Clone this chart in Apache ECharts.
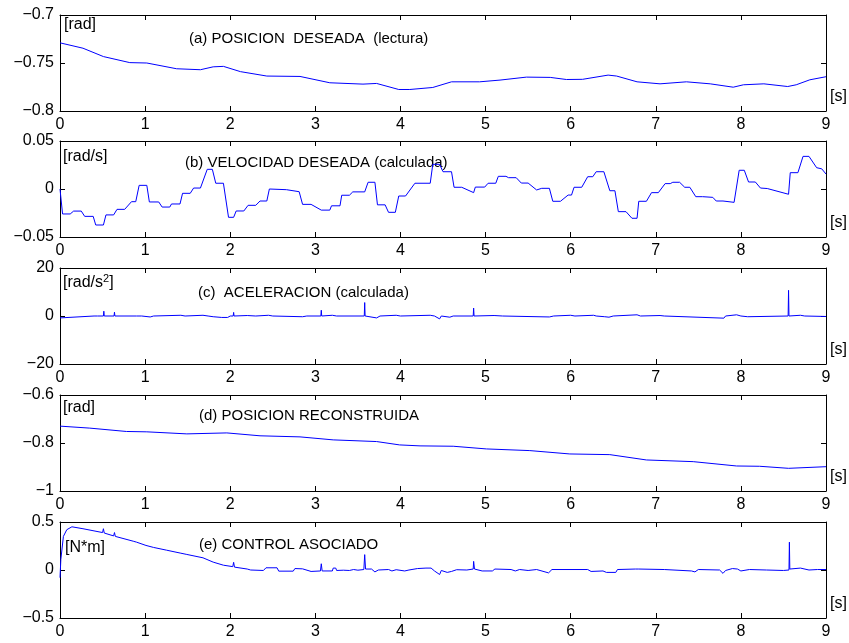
<!DOCTYPE html>
<html>
<head>
<meta charset="utf-8">
<script src="https://cdn.jsdelivr.net/npm/echarts@6/dist/echarts.min.js"></script>
<style>
  html, body { margin: 0; padding: 0; background: #fff; }
  #chart { width: 849px; height: 643px; }
</style>
</head>
<body>
<div id="chart"></div>
<script>
// time axis ticks [s]
const X_TICKS = [0, 1, 2, 3, 4, 5, 6, 7, 8, 9];

// (a) desired position [rad]
const posDeseada = [
  [0, -0.729], [0.27, -0.7346], [0.51, -0.7433], [0.82, -0.7496], [1.02, -0.750],
  [1.37, -0.756], [1.65, -0.757], [1.80, -0.754], [1.92, -0.7535], [2.12, -0.759],
  [2.43, -0.7636], [2.82, -0.764], [3.17, -0.7706], [3.56, -0.772], [3.72, -0.7713],
  [3.98, -0.7776], [4.11, -0.7776], [4.38, -0.7755], [4.60, -0.7696], [4.93, -0.7696],
  [5.17, -0.7678], [5.48, -0.7647], [5.76, -0.765], [5.95, -0.7672], [6.14, -0.767],
  [6.44, -0.7626], [6.54, -0.7636], [6.78, -0.7696], [7.05, -0.7717], [7.36, -0.7696],
  [7.64, -0.7717], [7.91, -0.7752], [8.03, -0.7727], [8.27, -0.7717], [8.55, -0.7745],
  [8.65, -0.7727], [8.81, -0.7675], [9.0, -0.7643]
];

// (b) desired velocity [rad/s]
const velDeseada = [
  [0, 0], [0.03, -0.026], [0.12, -0.026], [0.16, -0.023], [0.25, -0.023],
  [0.29, -0.0285], [0.39, -0.0285], [0.42, -0.0375], [0.51, -0.0375], [0.54, -0.027],
  [0.63, -0.027], [0.67, -0.0212], [0.76, -0.0212], [0.84, -0.0132], [0.89, -0.0132],
  [0.93, 0.0038], [1.02, 0.0038], [1.05, -0.0135], [1.16, -0.0135], [1.20, -0.0188],
  [1.29, -0.0188], [1.31, -0.0156], [1.41, -0.0156], [1.44, -0.0045], [1.53, -0.0045],
  [1.57, 0.001], [1.65, 0.001], [1.73, 0.0205], [1.79, 0.0205], [1.83, 0.006],
  [1.92, 0.006], [1.98, -0.0295], [2.04, -0.0295], [2.07, -0.0229], [2.16, -0.0229],
  [2.21, -0.017], [2.30, -0.017], [2.35, -0.0125], [2.43, -0.0125], [2.46, 0],
  [2.66, -0.0007], [2.81, -0.0028], [2.85, -0.016], [2.95, -0.016], [3.07, -0.022],
  [3.17, -0.022], [3.19, -0.0175], [3.29, -0.0175], [3.31, -0.0065], [3.40, -0.0065],
  [3.44, -0.003], [3.58, -0.003], [3.62, 0.007], [3.70, 0.007], [3.73, -0.0165],
  [3.82, -0.0165], [3.86, -0.0243], [3.94, -0.0243], [3.98, -0.0073], [4.06, -0.0073],
  [4.17, 0.006], [4.35, 0.006], [4.38, 0.0257], [4.46, 0.0257], [4.50, 0.018],
  [4.60, 0.018], [4.63, 0.0018], [4.72, 0.0018], [4.86, -0.0038], [4.88, 0.002],
  [4.99, 0.002], [5.03, 0.006], [5.12, 0.006], [5.15, 0.0132], [5.24, 0.0132],
  [5.27, 0.0118], [5.36, 0.0118], [5.42, 0.0062], [5.50, 0.0062], [5.60, -0.001],
  [5.66, 0.0007], [5.75, 0.0007], [5.79, -0.0128], [5.88, -0.0128], [5.97, -0.0063],
  [6.01, -0.0063], [6.04, 0.0018], [6.13, 0.0018], [6.20, 0.0128], [6.26, 0.0128],
  [6.30, 0.018], [6.39, 0.018], [6.46, -0.0018], [6.52, -0.0018], [6.56, -0.0236],
  [6.65, -0.0236], [6.72, -0.0305], [6.78, -0.0305], [6.80, -0.0128], [6.89, -0.0128],
  [6.95, -0.0038], [7.03, -0.0038], [7.11, 0.0056], [7.17, 0.0056], [7.20, 0.007],
  [7.28, 0.007], [7.34, 0.0018], [7.40, 0.0018], [7.47, -0.008], [7.55, -0.008],
  [7.57, -0.0087], [7.67, -0.0087], [7.71, -0.0125], [7.79, -0.0125], [7.81, -0.0139],
  [7.92, -0.0139], [7.98, 0.0195], [8.04, 0.0195], [8.09, 0.0073], [8.17, 0.0073],
  [8.23, 0.001], [8.31, 0.0005], [8.56, -0.0055], [8.58, 0.017], [8.67, 0.017],
  [8.73, 0.034], [8.80, 0.034], [8.89, 0.0222], [8.95, 0.021], [9.0, 0.0156]
];

// (c) acceleration [rad/s^2]
const aceleracion = [
  [0, -0.8], [0.01, -0.8], [0.02, 0], [0.4, 0], [0.41, -0.3], [0.44, 0], [0.51, 0],
  [0.515, 2.0], [0.52, 0], [0.635, 0], [0.64, 1.6], [0.645, 0], [0.9, 0], [0.92, 0.4],
  [0.96, 0], [1.06, -0.4], [1.1, 0], [1.42, 0.3], [1.47, 0], [1.68, 0.3], [1.74, 0],
  [1.8, -0.3], [1.9, -0.6], [1.97, -0.6], [2.0, 0], [2.035, 0], [2.04, 1.5], [2.045, 0],
  [2.2, 0.2], [2.3, 0], [2.45, 0.3], [2.5, 0], [2.85, -0.3], [2.9, 0], [3.065, 0],
  [3.07, 2.4], [3.075, 0], [3.2, 0.3], [3.25, 0], [3.575, 0], [3.58, 5.6], [3.585, 0],
  [3.72, -0.8], [3.76, 0], [3.95, 0.3], [4.0, 0], [4.35, 0.3], [4.4, 0], [4.46, -1.2],
  [4.48, 0], [4.58, -0.5], [4.62, 0], [4.855, 0], [4.86, 3.3], [4.865, 0], [5.1, 0.2],
  [5.2, 0], [5.75, -0.4], [5.8, 0], [6.0, 0.3], [6.05, 0], [6.27, 0.3], [6.3, 0],
  [6.4, -0.3], [6.45, -0.5], [6.5, 0], [6.78, 0.5], [6.82, 0], [7.05, 0.2], [7.1, 0],
  [7.8, -0.9], [7.82, 0], [7.95, 0.5], [8.0, 0], [8.08, -0.3], [8.1, 0], [8.555, 0],
  [8.56, 10.7], [8.565, 0], [8.7, 0.3], [8.75, 0], [9, -0.2]
];

// (d) reconstructed position [rad]
const posReconstruida = [
  [0, -0.7297], [0.35, -0.738], [0.78, -0.752], [1.02, -0.7535], [1.49, -0.762],
  [1.96, -0.758], [2.35, -0.770], [2.82, -0.7745], [3.21, -0.787], [3.72, -0.794],
  [3.99, -0.808], [4.23, -0.812], [4.62, -0.8135], [5.01, -0.8247], [5.52, -0.8317],
  [5.99, -0.8457], [6.46, -0.8485], [6.89, -0.8707], [7.44, -0.8777], [7.95, -0.8958],
  [8.22, -0.897], [8.56, -0.9055], [9.0, -0.8987]
];

// (e) control signal [N*m]
const control = [
  [0, -0.08], [0.01, 0.11], [0.04, 0.35], [0.08, 0.42], [0.14, 0.45], [0.27, 0.43],
  [0.5, 0.39], [0.51, 0.43], [0.52, 0.385], [0.63, 0.355], [0.64, 0.39], [0.65, 0.35],
  [0.86, 0.30], [0.88, 0.32], [0.9, 0.29], [1.01, 0.256], [1.1, 0.235], [1.25, 0.207],
  [1.42, 0.175], [1.43, 0.195], [1.44, 0.17], [1.49, 0.162], [1.68, 0.127], [1.69, 0.14],
  [1.7, 0.12], [1.80, 0.082], [1.92, 0.05], [2.03, 0.035], [2.04, 0.08], [2.05, 0.03],
  [2.2, 0.01], [2.24, 0], [2.39, -0.005], [2.42, 0.023], [2.55, 0.023], [2.57, -0.012],
  [2.74, -0.012], [2.76, 0.015], [2.85, 0.012], [2.87, -0.005], [2.95, -0.015],
  [3.06, -0.01], [3.07, 0.065], [3.08, -0.01], [3.2, -0.01], [3.21, 0.02], [3.24, 0.02],
  [3.25, -0.005], [3.33, -0.002], [3.35, 0.005], [3.4, -0.005], [3.45, 0.005],
  [3.5, -0.002], [3.57, 0.005], [3.58, 0.16], [3.59, 0.01], [3.66, 0.01], [3.7, -0.02],
  [3.72, -0.03], [3.74, 0], [3.86, 0.005], [3.9, -0.01], [3.95, 0.003], [4.05, -0.01],
  [4.1, 0], [4.2, 0.015], [4.3, 0.02], [4.36, 0.02], [4.4, -0.01], [4.46, -0.047],
  [4.48, -0.005], [4.55, -0.025], [4.6, -0.015], [4.66, 0.003], [4.78, 0], [4.855, 0.01],
  [4.86, 0.09], [4.87, 0.01], [4.96, -0.01], [5.08, -0.01], [5.11, 0.01], [5.3, 0.005],
  [5.35, -0.01], [5.4, 0.005], [5.5, -0.005], [5.6, 0.005], [5.74, -0.03], [5.78, 0.005],
  [6.2, 0.005], [6.24, -0.015], [6.38, -0.01], [6.42, -0.025], [6.53, -0.025],
  [6.55, 0.005], [6.76, 0.01], [6.78, 0.03], [6.8, 0.01], [7.1, 0.005], [7.42, -0.01],
  [7.46, -0.02], [7.5, 0.005], [7.75, 0], [7.79, -0.035], [7.82, -0.005], [7.9, 0.015],
  [7.92, 0.02], [7.96, 0.01], [8.0, -0.01], [8.1, 0.005], [8.3, 0], [8.5, -0.005],
  [8.565, 0], [8.57, 0.29], [8.575, 0.01], [8.7, 0.02], [8.8, 0], [8.9, 0.005], [9, 0.005]
];

// y ranges per panel: [min, max, interval]
const Y_RANGES = [
  [-0.8, -0.7, 0.05],
  [-0.05, 0.05, 0.05],
  [-20, 20, 20],
  [-1, -0.6, 0.2],
  [-0.5, 0.5, 0.5]
];

const TITLES = [
  '(a) POSICION  DESEADA  (lectura)',
  '(b) VELOCIDAD DESEADA (calculada)',
  '(c)  ACELERACION (calculada)',
  '(d) POSICION RECONSTRUIDA',
  '(e) CONTROL ASOCIADO'
];
const UNITS = ['[rad]', '[rad/s]', '{n|[rad/s}{sup|2}{n|]}', '[rad]', '[N*m]'];
const SERIES = [posDeseada, velDeseada, aceleracion, posReconstruida, control];

const FONT = "'Liberation Sans', Arial, Helvetica, sans-serif";
const GRID_TOPS = [15, 141, 268, 395, 522];
const GRID_H = 96;
const TITLE_POS = [[189, 40], [185, 164], [198, 294], [199, 417], [199, 546]];
const UNIT_POS = [[64, 26], [63, 158], [63, 282], [63, 409], [65, 549]];

const fmtNum = (v) => {
  const n = Number(v.toFixed(4));
  return String(n).replace('-', '\u2212');
};

const chart = echarts.init(document.getElementById('chart'));

const AXIS_LINE = { show: true, onZero: false, lineStyle: { color: '#000', width: 1 } };
const TICK = { show: true, inside: true, length: 5, lineStyle: { color: '#000' } };

const grids = [];
const xAxes = [];
const yAxes = [];
const series = [];
const graphics = [];

SERIES.forEach((data, i) => {
  const [ymin, ymax, yint] = Y_RANGES[i];
  grids.push({ left: 60, right: 23, top: GRID_TOPS[i], height: GRID_H });

  const xBase = {
    type: 'value', gridIndex: i, min: X_TICKS[0], max: X_TICKS[X_TICKS.length - 1], interval: 1,
    axisLine: AXIS_LINE, axisTick: TICK, splitLine: { show: false },
  };
  xAxes.push({
    ...xBase, position: 'bottom',
    axisLabel: { color: '#000', fontSize: 16, fontFamily: FONT, margin: 6, formatter: fmtNum },
  });
  xAxes.push({ ...xBase, position: 'top', axisLabel: { show: false } });

  const yBase = {
    type: 'value', gridIndex: i, min: ymin, max: ymax, interval: yint,
    axisLine: AXIS_LINE, axisTick: TICK, splitLine: { show: false },
  };
  yAxes.push({
    ...yBase, position: 'left',
    axisLabel: { color: '#000', fontSize: 16, fontFamily: FONT, margin: 6, formatter: fmtNum },
  });
  yAxes.push({ ...yBase, position: 'right', axisLabel: { show: false } });

  series.push({
    type: 'line', xAxisIndex: 2 * i, yAxisIndex: 2 * i, data,
    showSymbol: false, symbol: 'none', smooth: false,
    lineStyle: { color: '#0000ff', width: 1 }, animation: false,
  });

  graphics.push({
    type: 'text', left: TITLE_POS[i][0], top: TITLE_POS[i][1] - 9,
    style: { text: TITLES[i], fill: '#000', font: `15px ${FONT}` },
  });
  graphics.push({
    type: 'text', left: UNIT_POS[i][0], top: UNIT_POS[i][1] - 9,
    style: {
      text: UNITS[i], fill: '#000', font: `16px ${FONT}`,
      rich: {
        n: { fontSize: 16, fontFamily: FONT, fill: '#000' },
        sup: { fontSize: 11, fontFamily: FONT, fill: '#000', padding: [0, 0, 9, 0] },
      },
    },
  });
  graphics.push({
    type: 'text', left: 830, top: GRID_TOPS[i] + GRID_H - 22,
    style: { text: '[s]', fill: '#000', font: `16px ${FONT}` },
  });
});

chart.setOption({
  backgroundColor: '#fff',
  animation: false,
  grid: grids,
  xAxis: xAxes,
  yAxis: yAxes,
  series,
  graphic: graphics,
});
</script>
</body>
</html>
